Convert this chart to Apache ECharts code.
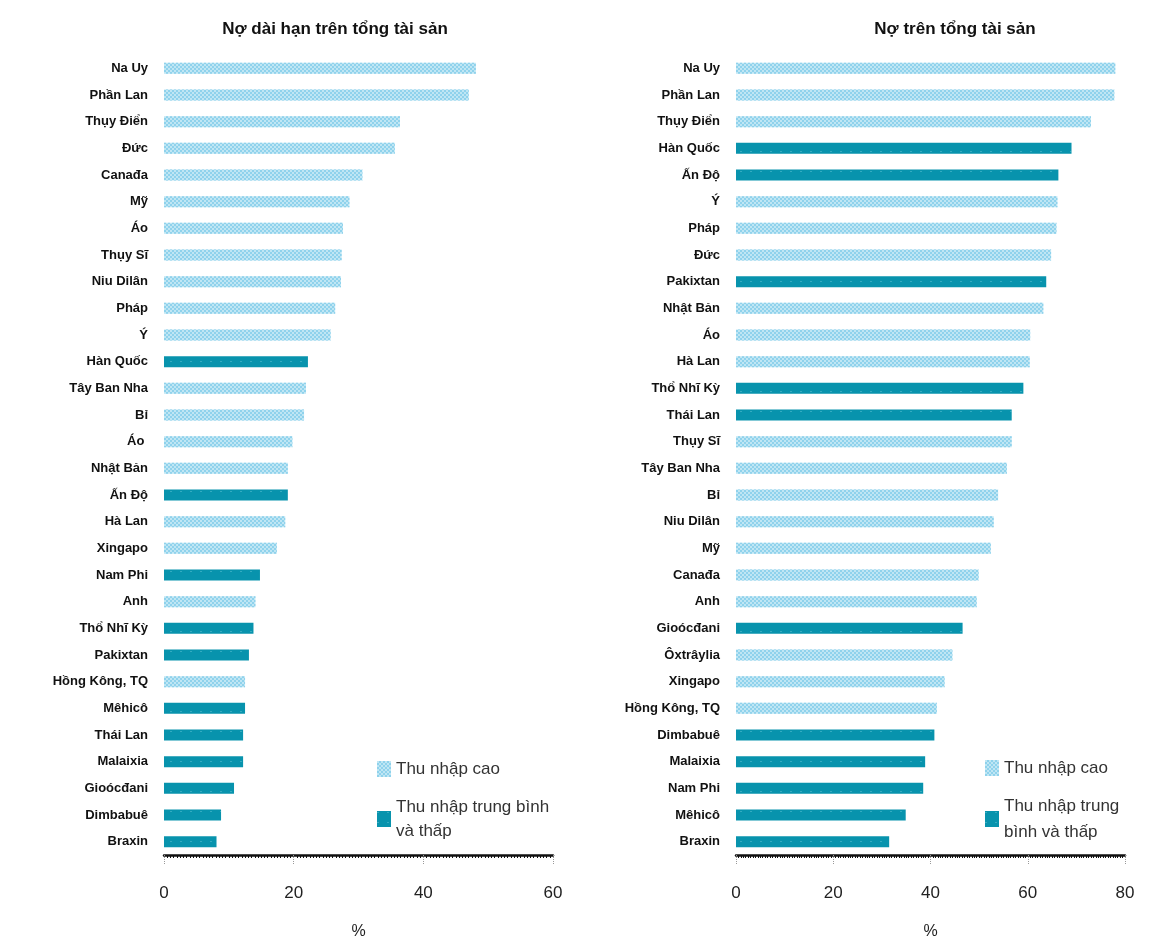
<!DOCTYPE html>
<html>
<head>
<meta charset="utf-8">
<script src="https://cdn.jsdelivr.net/npm/echarts@6/dist/echarts.min.js"></script>
<style>
  html, body { margin: 0; padding: 0; background: #fff; }
  #chart { width: 1170px; height: 941px; }
</style>
</head>
<body>
<div id="chart"></div>
<script>
// Nợ dài hạn trên tổng tài sản (%)
const leftCountries = ["Na Uy", "Phần Lan", "Thụy Điển", "Đức", "Canađa", "Mỹ", "Áo", "Thụy Sĩ", "Niu Dilân", "Pháp",
  "Ý", "Hàn Quốc", "Tây Ban Nha", "Bỉ", "Áo ", "Nhật Bản", "Ấn Độ", "Hà Lan", "Xingapo", "Nam Phi",
  "Anh", "Thổ Nhĩ Kỳ", "Pakixtan", "Hồng Kông, TQ", "Mêhicô", "Thái Lan", "Malaixia", "Gioócđani", "Dimbabuê", "Braxin"];
const leftValues = [48.1, 47.0, 36.4, 35.6, 30.6, 28.6, 27.6, 27.4, 27.3, 26.4,
  25.7, 22.2, 21.9, 21.6, 19.8, 19.1, 19.1, 18.7, 17.4, 14.8,
  14.1, 13.8, 13.1, 12.5, 12.5, 12.2, 12.2, 10.8, 8.8, 8.1];
// 1 = thu nhập cao, 0 = thu nhập trung bình và thấp
const leftHigh = [1, 1, 1, 1, 1, 1, 1, 1, 1, 1,
  1, 0, 1, 1, 1, 1, 0, 1, 1, 0,
  1, 0, 0, 1, 0, 0, 0, 0, 0, 0];

// Nợ trên tổng tài sản (%)
const rightCountries = ["Na Uy", "Phần Lan", "Thụy Điển", "Hàn Quốc", "Ấn Độ", "Ý", "Pháp", "Đức", "Pakixtan", "Nhật Bản",
  "Áo", "Hà Lan", "Thổ Nhĩ Kỳ", "Thái Lan", "Thụy Sĩ", "Tây Ban Nha", "Bỉ", "Niu Dilân", "Mỹ", "Canađa",
  "Anh", "Gioócđani", "Ôxtrâylia", "Xingapo", "Hồng Kông, TQ", "Dimbabuê", "Malaixia", "Nam Phi", "Mêhicô", "Braxin"];
const rightValues = [78.0, 77.8, 73.0, 69.0, 66.3, 66.1, 65.9, 64.8, 63.8, 63.2,
  60.5, 60.4, 59.1, 56.7, 56.7, 55.7, 53.9, 53.0, 52.4, 49.9,
  49.5, 46.6, 44.5, 42.9, 41.3, 40.8, 38.9, 38.5, 34.9, 31.5];
const rightHigh = [1, 1, 1, 0, 0, 1, 1, 1, 0, 1,
  1, 1, 0, 0, 1, 1, 1, 1, 1, 1,
  1, 0, 1, 1, 1, 0, 0, 0, 0, 0];

const xTicksLeft = [0, 60, 20];   // min, max, interval
const xTicksRight = [0, 80, 20];

const HIGH_NAME = "Thu nhập cao";
const LOW_NAME_L = "Thu nhập trung bình\nvà thấp";
const LOW_NAME_R = "Thu nhập trung\nbình và thấp";

const FONT = "Liberation Sans, Arial, sans-serif";

const highStyle = {
  color: "#bfe6f4",
  decal: {
    symbol: "rect", symbolSize: 1, color: "#8fd2ec",
    dashArrayX: [[2, 2], [0, 2, 2, 0]], dashArrayY: [2, 0]
  }
};
const lowStyle = {
  color: "#0893ad",
  decal: {
    symbol: "circle", symbolSize: 0.5, color: "rgba(160,230,240,0.8)",
    dashArrayX: [2, 8], dashArrayY: [3, 7]
  }
};

function split(values, flags, want) {
  return values.map((v, i) => (flags[i] === want ? v : "-"));
}

function xAxisCfg(idx, t) {
  return {
    gridIndex: idx, type: "value", min: t[0], max: t[1], interval: t[2],
    name: "%", nameLocation: "middle", nameGap: 69,
    nameTextStyle: { color: "#222", fontSize: 16, fontFamily: FONT },
    axisLine: { show: true, lineStyle: { color: "#111", width: 2.5 } },
    axisTick: { show: true, inside: false, length: 10, lineStyle: { color: "#999", type: "dotted" } },
    minorTick: { show: true, splitNumber: 40, length: 3, lineStyle: { color: "#111" } },
    axisLabel: { color: "#222", fontSize: 17, margin: 30, fontFamily: FONT },
    splitLine: { show: false }
  };
}

function yAxisCfg(idx, cats) {
  return {
    gridIndex: idx, type: "category", data: cats, inverse: true,
    axisLine: { show: false }, axisTick: { show: false },
    axisLabel: { color: "#111", fontSize: 13, fontWeight: "bold", margin: 16, fontFamily: FONT, interval: 0 }
  };
}

var myChart = echarts.init(document.getElementById("chart"));
myChart.setOption({
  animation: false,
  textStyle: { fontFamily: FONT },
  title: [
    { text: "Nợ dài hạn trên tổng tài sản", left: 330, top: 16, textAlign: "center",
      textStyle: { fontSize: 17, fontWeight: "bold", color: "#111", fontFamily: FONT } },
    { text: "Nợ trên tổng tài sản", left: 950, top: 16, textAlign: "center",
      textStyle: { fontSize: 17, fontWeight: "bold", color: "#111", fontFamily: FONT } }
  ],
  legend: [
    { orient: "vertical", left: 372, top: 752, itemWidth: 14, itemHeight: 16, itemGap: 14,
      icon: "rect", data: [HIGH_NAME, LOW_NAME_L],
      textStyle: { fontSize: 17, color: "#333", lineHeight: 24, fontFamily: FONT } },
    { orient: "vertical", left: 980, top: 750, itemWidth: 14, itemHeight: 16, itemGap: 12,
      icon: "rect", data: [HIGH_NAME, LOW_NAME_R],
      textStyle: { fontSize: 17, color: "#333", lineHeight: 26, fontFamily: FONT } }
  ],
  grid: [
    { left: 164, width: 389, top: 55, height: 800, outerBoundsMode: "none" },
    { left: 736, width: 389, top: 55, height: 800, outerBoundsMode: "none" }
  ],
  xAxis: [xAxisCfg(0, xTicksLeft), xAxisCfg(1, xTicksRight)],
  yAxis: [yAxisCfg(0, leftCountries), yAxisCfg(1, rightCountries)],
  series: [
    { name: HIGH_NAME, type: "bar", xAxisIndex: 0, yAxisIndex: 0, stack: "l", barWidth: 11,
      itemStyle: highStyle, data: split(leftValues, leftHigh, 1) },
    { name: LOW_NAME_L, type: "bar", xAxisIndex: 0, yAxisIndex: 0, stack: "l", barWidth: 11,
      itemStyle: lowStyle, data: split(leftValues, leftHigh, 0) },
    { name: HIGH_NAME, type: "bar", xAxisIndex: 1, yAxisIndex: 1, stack: "r", barWidth: 11,
      itemStyle: highStyle, data: split(rightValues, rightHigh, 1) },
    { name: LOW_NAME_R, type: "bar", xAxisIndex: 1, yAxisIndex: 1, stack: "r", barWidth: 11,
      itemStyle: lowStyle, data: split(rightValues, rightHigh, 0) }
  ]
});
</script>
</body>
</html>
